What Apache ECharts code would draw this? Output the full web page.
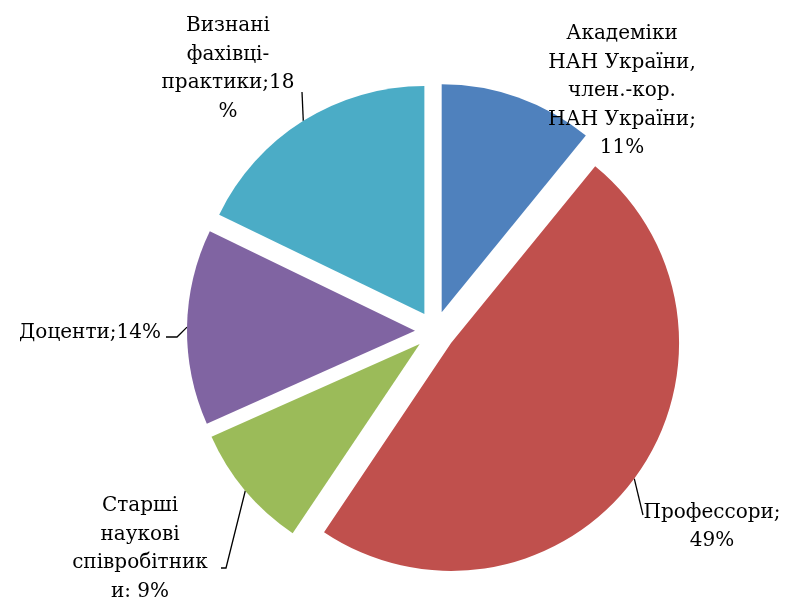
<!DOCTYPE html>
<html>
<head>
<meta charset="utf-8">
<script src="https://cdn.jsdelivr.net/npm/echarts@6/dist/echarts.min.js"></script>
<style>
html, body { margin: 0; padding: 0; background: #fff; }
#chart { width: 785px; height: 598px; }
</style>
</head>
<body>
<div id="chart"></div>
<script>
// data
var categories = ['Академіки НАН України, член.-кор. НАН України', 'Профессори', 'Старші наукові співробітники', 'Доценти', 'Визнані фахівці-практики'];
var values = [11, 49, 9, 14, 18];
var labelTexts = [
    'Академіки\nНАН України,\nчлен.-кор.\nНАН України;\n11%',
    'Профессори;\n49%',
    'Старші\nнаукові\nспівробітник\nи: 9%',
    'Доценти;14%',
    'Визнані\nфахівці-\nпрактики;18\n%'
];
var colors = ['#4F81BD', '#C0504D', '#9BBB59', '#8064A2', '#4BACC6'];

// where Excel put each label: anchor x (centre or right edge) and middle y
var labelPos = [
    {x: 622, y: 91, anchor: 'center'},
    {x: 712, y: 527, anchor: 'center'},
    {x: 140, y: 549, anchor: 'center'},
    {x: 161, y: 333, anchor: 'right'},
    {x: 228, y: 69, anchor: 'center'}
];
// leader line: from the slice edge to these points next to the label
var leaderEnds = [
    null,
    [[643, 515]],
    [[226, 568], [221, 568]],
    [[177, 337], [166, 337]],
    [[302, 92]]
];

var explode = 20;

// the exploded slices carry label and line along by the selected offset,
// so work out that shift to cancel it in labelLayout
var total = values.reduce(function (a, b) { return a + b; }, 0);
var shifts = [];
var acc = 0;
values.forEach(function (v) {
    var mid = (acc + v / 2) / total * Math.PI * 2;
    shifts.push([explode * Math.sin(mid), -explode * Math.cos(mid)]);
    acc += v;
});

var myChart = echarts.init(document.getElementById('chart'));

var option = {
    animation: false,
    color: colors,
    series: [{
        type: 'pie',
        center: [435, 331],
        radius: 228,
        startAngle: 90,
        clockwise: true,
        selectedMode: 'multiple',
        selectedOffset: explode,
        emphasis: { disabled: true },
        label: {
            show: true,
            position: 'outside',
            overflow: 'none',
            fontFamily: 'DejaVu Serif',
            fontSize: 20,
            lineHeight: 28.5,
            color: '#000',
            formatter: function (p) {
                return labelTexts[p.dataIndex];
            }
        },
        labelLine: {
            show: true,
            length: 15,
            length2: 8,
            lineStyle: { color: '#000', width: 1.3 }
        },
        labelLayout: function (p) {
            var i = p.dataIndex;
            var lp = labelPos[i];
            var r = p.labelRect;
            var ax = p.align === 'left' ? r.x : (p.align === 'right' ? r.x + r.width : r.x + r.width / 2);
            var ay = r.y + r.height / 2;
            var res = {
                align: lp.anchor,
                verticalAlign: 'middle',
                dx: lp.x - ax - shifts[i][0],
                dy: lp.y - ay - shifts[i][1]
            };
            if (leaderEnds[i] && p.labelLinePoints) {
                var pts = [p.labelLinePoints[0]];
                leaderEnds[i].forEach(function (pt) {
                    pts.push([pt[0] - shifts[i][0], pt[1] - shifts[i][1]]);
                });
                res.labelLinePoints = pts;
            }
            return res;
        },
        data: categories.map(function (name, i) {
            return {
                name: name,
                value: values[i],
                selected: true,
                labelLine: { show: i !== 0 }
            };
        })
    }]
};

myChart.setOption(option);
</script>
</body>
</html>
